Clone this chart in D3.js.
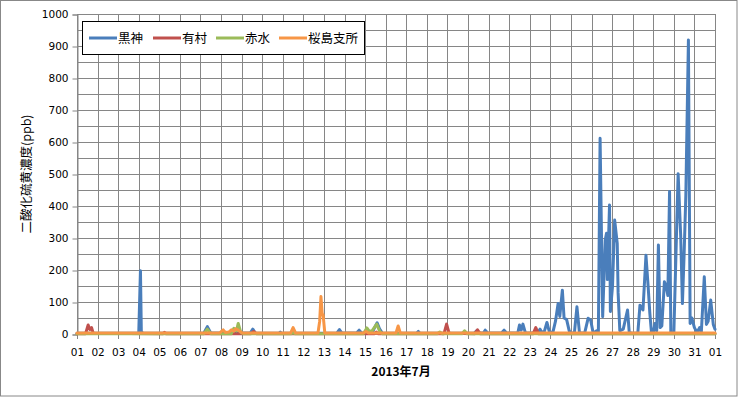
<!DOCTYPE html>
<html>
<head>
<meta charset="utf-8">
<script src="https://cdn.jsdelivr.net/npm/d3@7"></script>
<style>
  body { margin: 0; background: #fff; }
  text { font-family: "DejaVu Sans", sans-serif; }
  .jp { font-family: "Noto Sans CJK JP", sans-serif; }
</style>
</head>
<body>
<div id="chart"></div>
<script>
// hourly SO2 readings, July 2013 ([hours since 07/01 00:00, ppb])
var kurokami = [[0,2],[72,2],[74,198],[75,8],[77,2],[148,3],[152,23],[156,3],[178,3],[181,8],[184,3],
  [202,3],[205,15],[208,3],[235,2],[237,6],[239,2],[303,3],[306,14],[309,3],[326,3],[329,12],[332,3],
  [344,3],[347,20],[350,35],[353,15],[356,3],[396,2],[398,8],[400,2],[463,2],[466,10],[469,3],
  [474,3],[476,12],[479,3],[495,3],[498,12],[501,3],[514,3],[516,28],[518,12],[520,31],[523,3],
  [537,3],[540,15],[542,5],[545,8],[548,36],[551,5],[555,6],[558,40],[561,95],[563,55],[566,137],
  [568,50],[571,45],[574,10],[577,3],[580,3],[583,85],[586,3],[592,3],[596,49],[599,44],[602,2],
  [606,10],[608,5],[610,612],[613,54],[616,294],[617.5,315],[618.5,170],[621,403],[622,70],
  [624.5,150],[627,356],[630,283],[631,130],[633,10],[637,15],[642,75],[644,5],[648,2],[654,3],
  [656.5,90],[660,75],[663.5,246],[666,150],[668,65],[670,2],[672,2],[674,33],[676,10],[678,278],
  [680,20],[682,25],[685,163],[687,150],[689,120],[691,445],[692.5,2],[696,2],[701,501],[704,307],
  [706,95],[708,250],[710,434],[713,919],[715,33],[717,50],[720,20],[723,5],[726,20],[728,3],
  [731.5,179],[734,30],[736,40],[739,106],[742,30],[744,15]];
var arimura = [[0,1],[10,1],[13,28],[15,14],[17,20],[19,2],[100,1],[102,5],[104,1],[203,1],[206,8],
  [209,1],[347,1],[349,6],[351,1],[428,1],[431,31],[434,2],[464,1],[467,13],[470,1],[532,1],
  [535,20],[538,1],[744,1]];
var akamizu = [[0,1],[148,1],[152,15],[156,1],[180,1],[183,18],[186,10],[188,33],[191,5],[194,1],
  [250,1],[252,6],[254,1],[334,1],[338,19],[341,8],[344,10],[349.5,31],[353,8],[356,1],[420,1],
  [423,6],[426,1],[449,1],[452,10],[455,1],[744,1]];
var sakurajima = [[0,3],[166,3],[170.5,13],[173,5],[177,6],[180,13],[183,9],[185,16],[188,12],
  [190,8],[193,3],[249,3],[252,20],[255,3],[281,3],[283,40],[284.5,117],[286,60],[287,60],[289,3],
  [334,3],[337,8],[340,3],[372,3],[374.5,25],[377,3],[744,3]];

var seriesNames = ["黒神", "有村", "赤水", "桜島支所"];
var seriesColors = ["#4a7ebb", "#c0504d", "#9bbb59", "#f79646"];
var dayLabels = ["01","02","03","04","05","06","07","08","09","10","11","12","13","14","15","16",
  "17","18","19","20","21","22","23","24","25","26","27","28","29","30","31","01"];
var yTicks = [0, 100, 200, 300, 400, 500, 600, 700, 800, 900, 1000];

var width = 738;
var height = 397;
var plot = { left: 77, right: 715, top: 14, bottom: 334 };

var x = d3.scaleLinear().domain([0, 744]).range([plot.left, plot.right]);
var y = d3.scaleLinear().domain([0, 1000]).range([plot.bottom, plot.top]);

var svg = d3.select("#chart")
    .append("svg")
    .attr("width", width)
    .attr("height", height);

// outer frame
svg.append("rect")
    .attr("x", 0.5).attr("y", 0.5)
    .attr("width", width - 1.5).attr("height", height - 1.5)
    .attr("fill", "#fff")
    .attr("stroke", "#888");

// gridlines: every 50 ppb and every day
svg.append("g")
    .selectAll("line")
    .data(d3.range(0, 1001, 50))
    .enter()
    .append("line")
    .attr("x1", plot.left).attr("x2", plot.right)
    .attr("y1", function (d) { return Math.round(y(d)) + 0.5; })
    .attr("y2", function (d) { return Math.round(y(d)) + 0.5; })
    .attr("stroke", "#868686");

svg.append("g")
    .selectAll("line")
    .data(d3.range(0, 32))
    .enter()
    .append("line")
    .attr("x1", function (d) { return Math.round(x(d * 24)) + 0.5; })
    .attr("x2", function (d) { return Math.round(x(d * 24)) + 0.5; })
    .attr("y1", plot.top)
    .attr("y2", plot.bottom + 5)
    .attr("stroke", "#868686");

// y axis
var yAxis = d3.axisLeft(y)
    .tickValues(yTicks)
    .tickSize(5)
    .tickPadding(4)
    .tickFormat(d3.format("d"));

var gy = svg.append("g")
    .attr("transform", "translate(" + (plot.left + 0.5) + ",0.5)")
    .call(yAxis);
gy.select(".domain").attr("stroke", "#868686");
gy.selectAll(".tick line").attr("stroke", "#868686");
gy.selectAll(".tick text")
    .attr("fill", "#000")
    .style("font-size", "10.5px")
    .style("font-family", "DejaVu Sans");

// x axis labels (day of month)
svg.append("g")
    .selectAll("text")
    .data(dayLabels)
    .enter()
    .append("text")
    .attr("x", function (d, i) { return x(i * 24) + 0.5; })
    .attr("y", 356)
    .attr("text-anchor", "middle")
    .style("font-size", "10.5px")
    .text(function (d) { return d; });

// series lines
var line = d3.line()
    .x(function (d) { return x(d[0]); })
    .y(function (d) { return y(d[1]); });

var allSeries = [kurokami, arimura, akamizu, sakurajima];
svg.append("g")
    .selectAll("path")
    .data(allSeries)
    .enter()
    .append("path")
    .attr("d", line)
    .attr("fill", "none")
    .attr("stroke", function (d, i) { return seriesColors[i]; })
    .attr("stroke-width", 3)
    .attr("stroke-linejoin", "round")
    .attr("stroke-linecap", "round");

// legend
var legend = svg.append("g");
legend.append("rect")
    .attr("x", 82.5).attr("y", 21.5)
    .attr("width", 282).attr("height", 33)
    .attr("fill", "#fff")
    .attr("stroke", "#000");

var legendX = [89, 153, 216, 279];
var items = legend.selectAll("g.item")
    .data(seriesNames)
    .enter()
    .append("g")
    .attr("class", "item")
    .attr("transform", function (d, i) { return "translate(" + legendX[i] + ",38)"; });
items.append("line")
    .attr("x1", 0).attr("x2", 28)
    .attr("stroke", function (d, i) { return seriesColors[i]; })
    .attr("stroke-width", 3);
items.append("text")
    .attr("class", "jp")
    .attr("x", 29)
    .attr("dy", "0.36em")
    .style("font-size", "12.5px")
    .text(function (d) { return d; });

// axis titles
svg.append("text")
    .attr("class", "jp")
    .attr("transform", "translate(31,174) rotate(-90)")
    .attr("text-anchor", "middle")
    .style("font-size", "12.5px")
    .text("二酸化硫黄濃度(ppb)");

svg.append("text")
    .attr("class", "jp")
    .attr("x", 401)
    .attr("y", 376)
    .attr("text-anchor", "middle")
    .style("font-size", "12px")
    .style("font-weight", "bold")
    .text("2013年7月");
</script>
</body>
</html>
